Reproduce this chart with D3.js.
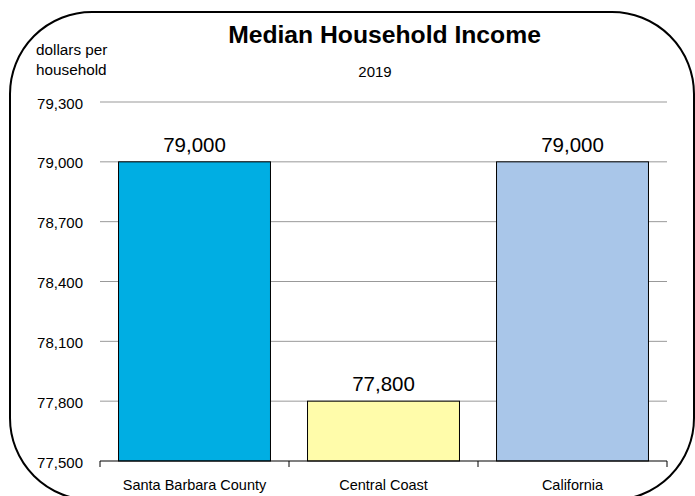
<!DOCTYPE html>
<html><head><meta charset="utf-8">
<script src="https://cdn.jsdelivr.net/npm/d3@7"></script>
<style>body{margin:0;background:#fff;}svg{display:block;font-family:"Liberation Sans",Arial,sans-serif;}</style>
</head><body>
<svg id="c" width="695" height="496"></svg>
<script>
const categories = ["Santa Barbara County", "Central Coast", "California"];
const values = [79000, 77800, 79000];
const valueLabels = ["79,000", "77,800", "79,000"];
const colors = ["#00AEE3", "#FFFCAA", "#A9C6E9"];
const yTicks = [77500, 77800, 78100, 78400, 78700, 79000, 79300];

const svg = d3.select("#c");
const m = {l:100, r:667, t:102, b:461};
const x = d3.scaleBand().domain(categories).range([m.l, m.r]).paddingInner(0.196).paddingOuter(0.098);
const y = d3.scaleLinear().domain([77500, 79300]).range([m.b, m.t]);

svg.append("rect").attr("x",10).attr("y",12).attr("width",684).attr("height",488)
  .attr("rx",82).attr("ry",82).attr("fill","none").attr("stroke","#000").attr("stroke-width",2);

svg.append("g").selectAll("line").data(yTicks.slice(1)).join("line")
  .attr("x1",m.l).attr("x2",m.r).attr("y1",d=>y(d)).attr("y2",d=>y(d))
  .attr("stroke","#999").attr("stroke-width",1);

svg.append("g").selectAll("text").data(yTicks).join("text")
  .attr("x",83).attr("y",d=>y(d)+6.5).attr("text-anchor","end").attr("font-size",15)
  .text(d=>d3.format(",")(d));

svg.append("g").selectAll("rect").data(values).join("rect")
  .attr("x",(d,i)=>x(categories[i])).attr("width",x.bandwidth())
  .attr("y",d=>y(d)).attr("height",d=>y(77500)-y(d))
  .attr("fill",(d,i)=>colors[i]).attr("stroke","#000").attr("stroke-width",1);

svg.append("g").selectAll("text").data(values).join("text")
  .attr("x",(d,i)=>x(categories[i])+x.bandwidth()/2).attr("y",d=>y(d)-10)
  .attr("text-anchor","middle").attr("font-size",20.5).text((d,i)=>valueLabels[i]);

// x axis
const xa = svg.append("g");
xa.append("line").attr("x1",m.l).attr("x2",m.r).attr("y1",m.b).attr("y2",m.b).attr("stroke","#000").attr("stroke-width",1.2);
const bounds = [m.l, m.l+(m.r-m.l)/3, m.l+2*(m.r-m.l)/3, m.r];
xa.selectAll("line.t").data(bounds).join("line").attr("class","t")
  .attr("x1",d=>d).attr("x2",d=>d).attr("y1",m.b).attr("y2",m.b+6).attr("stroke","#000");
xa.selectAll("text").data(categories).join("text")
  .attr("x",d=>x(d)+x.bandwidth()/2).attr("y",490).attr("text-anchor","middle").attr("font-size",14.5).text(d=>d);

svg.append("text").attr("x",384.5).attr("y",43).attr("text-anchor","middle").attr("font-size",24.7).attr("font-weight","bold").text("Median Household Income");
svg.append("text").attr("x",375).attr("y",77).attr("text-anchor","middle").attr("font-size",15).text("2019");
svg.append("text").attr("x",36).attr("y",55).attr("font-size",15.3).text("dollars per");
svg.append("text").attr("x",36).attr("y",75).attr("font-size",15.3).text("household");
</script>
</body></html>
